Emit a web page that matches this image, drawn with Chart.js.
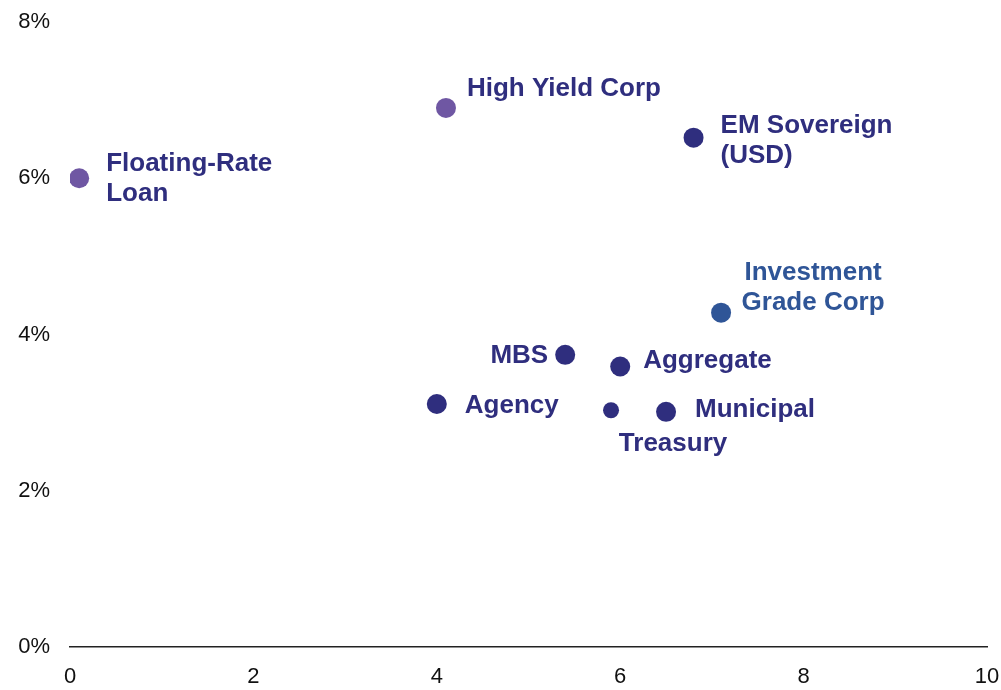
<!DOCTYPE html>
<html>
<head>
<meta charset="utf-8">
<script src="https://cdn.jsdelivr.net/npm/chart.js@4/dist/chart.umd.min.js"></script>
<style>
  html, body { margin: 0; padding: 0; background: #fff; }
  #wrap { width: 1001px; height: 690px; position: relative; }
</style>
</head>
<body>
<div id="wrap"><canvas id="scatterChart"></canvas></div>
<script>
// sectors: duration (x, years) vs yield (y, %)
const sectors = ['Floating-Rate Loan', 'High Yield Corp', 'EM Sovereign (USD)', 'Investment Grade Corp',
                 'MBS', 'Aggregate', 'Agency', 'Treasury', 'Municipal'];
const duration = [0.1, 4.1, 6.8, 7.1, 5.4, 6.0, 4.0, 5.9, 6.5];
const yieldPct = [6.0, 6.9, 6.52, 4.28, 3.74, 3.59, 3.11, 3.03, 3.01];
const xTicks = [0, 2, 4, 6, 8, 10];
const yTicks = [0, 2, 4, 6, 8];

// label lines and placement relative to each point
const labelLines = [['Floating-Rate', 'Loan'], ['High Yield Corp'], ['EM Sovereign', '(USD)'], ['Investment', 'Grade Corp'],
                    ['MBS'], ['Aggregate'], ['Agency'], ['Treasury'], ['Municipal']];
const labelPos = [
    { dx: 27, dy: -14, align: 'left' },
    { dx: 21, dy: -19, align: 'left' },
    { dx: 27, dy: -12, align: 'left' },
    { dx: 92, dy: -40, align: 'center' },
    { dx: -17, dy: 1, align: 'right' },
    { dx: 23, dy: -6, align: 'left' },
    { dx: 28, dy: 2, align: 'left' },
    { dx: 62, dy: 34, align: 'center' },
    { dx: 29, dy: -2, align: 'left' }
];

const FONT = 'Arial, "Liberation Sans", Helvetica, sans-serif';
const NAVY = '#2f2e7e';
const PURPLE = '#6f57a3';
const BLUE = '#2f5597';
const pointColors = [PURPLE, PURPLE, NAVY, BLUE, NAVY, NAVY, NAVY, NAVY, NAVY];
const labelColors = [NAVY, NAVY, NAVY, BLUE, NAVY, NAVY, NAVY, NAVY, NAVY];
const pointSizes = [10, 10, 10, 10, 10, 10, 10, 8, 10];

const pointLabels = {
    id: 'pointLabels',
    afterDatasetsDraw(chart) {
        const ctx = chart.ctx;
        const meta = chart.getDatasetMeta(0);
        ctx.save();
        ctx.font = 'bold 26px ' + FONT;
        ctx.textBaseline = 'middle';
        meta.data.forEach((pt, i) => {
            const p = labelPos[i];
            ctx.fillStyle = labelColors[i];
            ctx.textAlign = p.align;
            labelLines[i].forEach((line, j) => {
                ctx.fillText(line, pt.x + p.dx, pt.y + p.dy + j * 30);
            });
        });
        ctx.restore();
    }
};

new Chart(document.getElementById('scatterChart'), {
    type: 'scatter',
    data: {
        datasets: [{
            data: duration.map((d, i) => ({ x: d, y: yieldPct[i] })),
            backgroundColor: pointColors,
            borderWidth: 0,
            pointRadius: pointSizes,
            pointHoverRadius: pointSizes
        }]
    },
    options: {
        responsive: true,
        maintainAspectRatio: false,
        animation: false,
        layout: { padding: { top: 22, right: 14, left: 0, bottom: 0 } },
        plugins: {
            legend: { display: false },
            tooltip: { enabled: false }
        },
        scales: {
            x: {
                type: 'linear',
                min: 0,
                max: 10,
                afterBuildTicks: (s) => { s.ticks = xTicks.map(v => ({ value: v })); },
                afterFit: (s) => { s.height = 43; s.paddingLeft = 0; s.paddingRight = 0; },
                grid: { display: false, drawTicks: false },
                border: { display: true, color: '#222', width: 1.5 },
                ticks: {
                    color: '#111',
                    padding: 17,
                    maxRotation: 0,
                    font: { family: FONT, size: 22 }
                }
            },
            y: {
                type: 'linear',
                min: 0,
                max: 8,
                afterBuildTicks: (s) => { s.ticks = yTicks.map(v => ({ value: v })); },
                afterFit: (s) => { s.width = 70; s.paddingTop = 0; s.paddingBottom = 0; },
                grid: { display: false, drawTicks: false },
                border: { display: false },
                ticks: {
                    color: '#111',
                    padding: 20,
                    callback: (v) => v + '%',
                    font: { family: FONT, size: 22 }
                }
            }
        }
    },
    plugins: [pointLabels]
});
</script>
</body>
</html>
